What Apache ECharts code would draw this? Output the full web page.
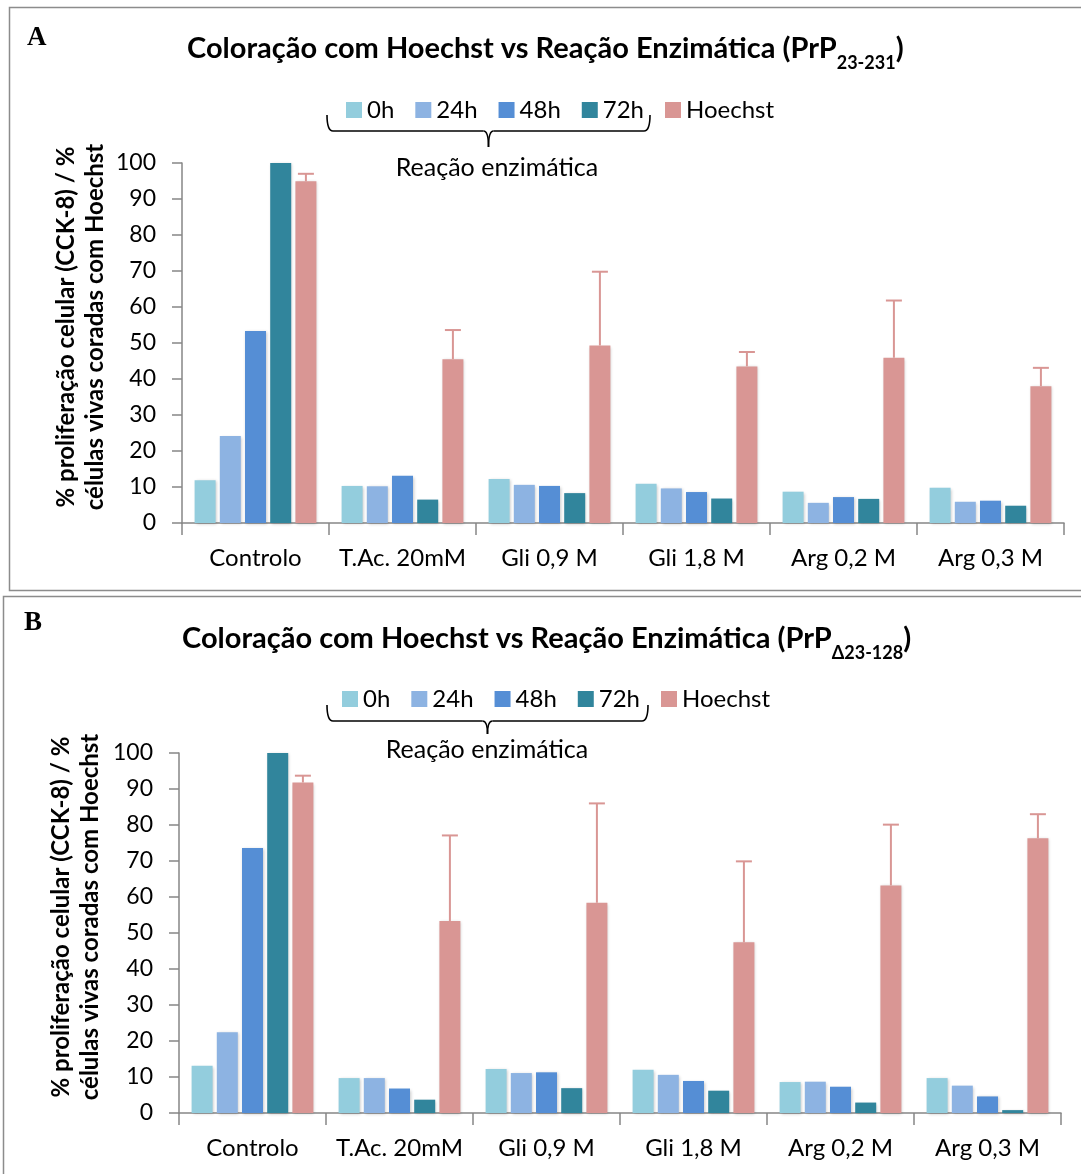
<!DOCTYPE html>
<html>
<head>
<meta charset="utf-8">
<script src="https://cdn.jsdelivr.net/npm/echarts@6/dist/echarts.min.js"></script>
<style>
html, body { margin: 0; padding: 0; background: #fff; }
#chart { width: 1081px; height: 1174px; }
</style>
</head>
<body>
<div id="chart"></div>
<script>
"use strict";
const categories = ['Controlo', 'T.Ac. 20mM', 'Gli 0,9 M', 'Gli 1,8 M', 'Arg 0,2 M', 'Arg 0,3 M'];
const seriesNames = ['0h', '24h', '48h', '72h', 'Hoechst'];
const colors = ['#93CDDD', '#8DB3E2', '#558ED5', '#31859C', '#D99694'];

// panel A (PrP 23-231)
const a0h = [11.9, 10.3, 12.2, 10.9, 8.7, 9.8];
const a24h = [24.2, 10.2, 10.6, 9.6, 5.6, 5.9];
const a48h = [53.3, 13.1, 10.3, 8.6, 7.2, 6.2];
const a72h = [100, 6.5, 8.3, 6.8, 6.7, 4.8];
const aHoechst = [94.9, 45.5, 49.3, 43.5, 45.9, 38.0];
const aHoechstErr = [2.1, 8.1, 20.5, 4.0, 15.9, 5.1];

// panel B (PrP delta 23-128)
const b0h = [13.1, 9.7, 12.2, 12.0, 8.6, 9.7];
const b24h = [22.4, 9.7, 11.1, 10.6, 8.7, 7.6];
const b48h = [73.6, 6.8, 11.3, 8.9, 7.3, 4.6];
const b72h = [100, 3.7, 6.9, 6.2, 2.9, 0.8];
const bHoechst = [91.8, 53.3, 58.4, 47.4, 63.2, 76.3];
const bHoechstErr = [1.9, 23.8, 27.6, 22.5, 16.9, 6.7];

const yTicks = { min: 0, max: 100, interval: 10 };

const FONT = 'Lato';
const BAR_W = 21;
const GAP = 0.2;
// centre of the 5th bar relative to the category centre
const hoechstOffset = (5 * BAR_W + 4 * BAR_W * GAP) / 2 - BAR_W / 2;
const errColor = '#D99694';

function errorRender(params, api) {
    const idx = api.value(0);
    const base = api.coord([idx, api.value(1)]);
    const top = api.coord([idx, api.value(1) + api.value(2)]);
    const x = base[0] + hoechstOffset;
    return {
        type: 'group',
        children: [
            { type: 'line', shape: { x1: x, y1: base[1], x2: x, y2: top[1] }, style: { stroke: errColor, lineWidth: 2 } },
            { type: 'line', shape: { x1: x - 8, y1: top[1], x2: x + 8, y2: top[1] }, style: { stroke: errColor, lineWidth: 2 } }
        ]
    };
}

function panelSeries(axisIdx, values, hoechst, err) {
    const list = seriesNames.map((name, i) => ({
        name,
        type: 'bar',
        xAxisIndex: axisIdx,
        yAxisIndex: axisIdx,
        data: i === 4 ? hoechst : values[i],
        barWidth: BAR_W,
        barGap: (GAP * 100) + '%',
        itemStyle: {
            color: colors[i],
            shadowBlur: 3,
            shadowColor: 'rgba(0,0,0,0.22)',
            shadowOffsetX: 1,
            shadowOffsetY: 1
        }
    }));
    list.push({
        type: 'custom',
        xAxisIndex: axisIdx,
        yAxisIndex: axisIdx,
        renderItem: errorRender,
        encode: { x: 0, y: 1 },
        data: categories.map((c, i) => [i, hoechst[i], err[i]]),
        z: 3
    });
    return list;
}

function xAxis(gridIndex) {
    return {
        type: 'category',
        gridIndex,
        data: categories,
        axisLine: { lineStyle: { color: '#868686', width: 1.5 } },
        axisTick: { show: true, length: 12, lineStyle: { color: '#868686', width: 1.5 } },
        axisLabel: { color: '#000', fontSize: 24, fontFamily: FONT, margin: 23, interval: 0 }
    };
}

function yAxis(gridIndex) {
    return {
        type: 'value',
        gridIndex,
        min: yTicks.min,
        max: yTicks.max,
        interval: yTicks.interval,
        splitLine: { show: false },
        axisLine: { show: true, lineStyle: { color: '#868686', width: 1.5 } },
        axisTick: { show: true, length: 10, lineStyle: { color: '#868686', width: 1.5 } },
        axisLabel: { color: '#000', fontSize: 23, fontFamily: FONT, margin: 26 }
    };
}

function legend(left, top) {
    return {
        data: seriesNames,
        left,
        top,
        icon: 'rect',
        itemWidth: 16,
        itemHeight: 16,
        itemGap: 21,
        selectedMode: false,
        textStyle: { color: '#000', fontSize: 24, fontFamily: FONT }
    };
}

const titleRich = {
    t: { fontSize: 29, fontWeight: 'bold', fontFamily: FONT, color: '#000', lineHeight: 34, verticalAlign: 'top' },
    s: { fontSize: 18, fontWeight: 'bold', fontFamily: FONT, color: '#000', lineHeight: 18, padding: [20, 0, 0, 0], verticalAlign: 'top' }
};

// curly brace under the four reaction series in the legend
function brace(x1, x2, y, depth) {
    const mid = (x1 + x2) / 2;
    const st = { stroke: '#000', lineWidth: 1.6, fill: null };
    return [
        { type: 'bezierCurve', shape: { x1: x1, y1: y - 16, cpx1: x1, cpy1: y, x2: x1 + 6, y2: y }, style: st },
        { type: 'line', shape: { x1: x1 + 6, y1: y, x2: mid - 5, y2: y }, style: st },
        { type: 'bezierCurve', shape: { x1: mid - 5, y1: y, cpx1: mid, cpy1: y, x2: mid, y2: y + depth }, style: st },
        { type: 'bezierCurve', shape: { x1: mid, y1: y + depth, cpx1: mid, cpy1: y, x2: mid + 5, y2: y }, style: st },
        { type: 'line', shape: { x1: mid + 5, y1: y, x2: x2 - 6, y2: y }, style: st },
        { type: 'bezierCurve', shape: { x1: x2 - 6, y1: y, cpx1: x2, cpy1: y, x2: x2, y2: y - 16 }, style: st }
    ];
}

function yName(cx, cy) {
    return {
        type: 'text',
        x: cx,
        y: cy,
        rotation: Math.PI / 2,
        style: {
            text: '% proliferação celular (CCK-8) / %\ncélulas vivas coradas com Hoechst',
            font: 'bold 24px ' + FONT,
            fill: '#000',
            align: 'center',
            verticalAlign: 'middle',
            lineHeight: 29
        }
    };
}

function plainText(text, x, y, font) {
    return { type: 'text', x, y, style: { text, font, fill: '#000', align: 'center', verticalAlign: 'middle' } };
}

const container = document.getElementById('chart');
const myChart = echarts.init(container);

const option = {
    animation: false,
    title: [
        { text: '{t|Coloração com Hoechst vs Reação Enzimática (PrP}{s|23-231}{t|)}', left: 182, top: 29, textStyle: { rich: titleRich } },
        { text: '{t|Coloração com Hoechst vs Reação Enzimática (PrP}{s|Δ23-128}{t|)}', left: 177, top: 619, textStyle: { rich: titleRich } }
    ],
    legend: [legend(341, 93), legend(337, 682)],
    grid: [
        { left: 182, top: 163, width: 882, height: 360 },
        { left: 179, top: 753, width: 882, height: 360 }
    ],
    xAxis: [xAxis(0), xAxis(1)],
    yAxis: [yAxis(0), yAxis(1)],
    series: [
        ...panelSeries(0, [a0h, a24h, a48h, a72h], aHoechst, aHoechstErr),
        ...panelSeries(1, [b0h, b24h, b48h, b72h], bHoechst, bHoechstErr)
    ],
    graphic: [
        { type: 'rect', shape: { x: 9.5, y: 7.5, width: 1100, height: 583 }, style: { stroke: '#8c8c8c', lineWidth: 1.5, fill: null } },
        { type: 'rect', shape: { x: 3.5, y: 596.5, width: 1100, height: 600 }, style: { stroke: '#8c8c8c', lineWidth: 1.5, fill: null } },
        { type: 'text', x: 27, y: 25, style: { text: 'A', font: 'bold 27px "Liberation Serif"', fill: '#000' } },
        { type: 'text', x: 24, y: 610, style: { text: 'B', font: 'bold 27px "Liberation Serif"', fill: '#000' } },
        ...brace(327, 650, 131, 16),
        ...brace(327, 648, 721, 13),
        plainText('Reação enzimática', 497, 168, '25px ' + FONT),
        plainText('Reação enzimática', 487, 750, '25px ' + FONT),
        yName(81, 327),
        yName(76, 917)
    ]
};
myChart.setOption(option);
</script>
</body>
</html>
